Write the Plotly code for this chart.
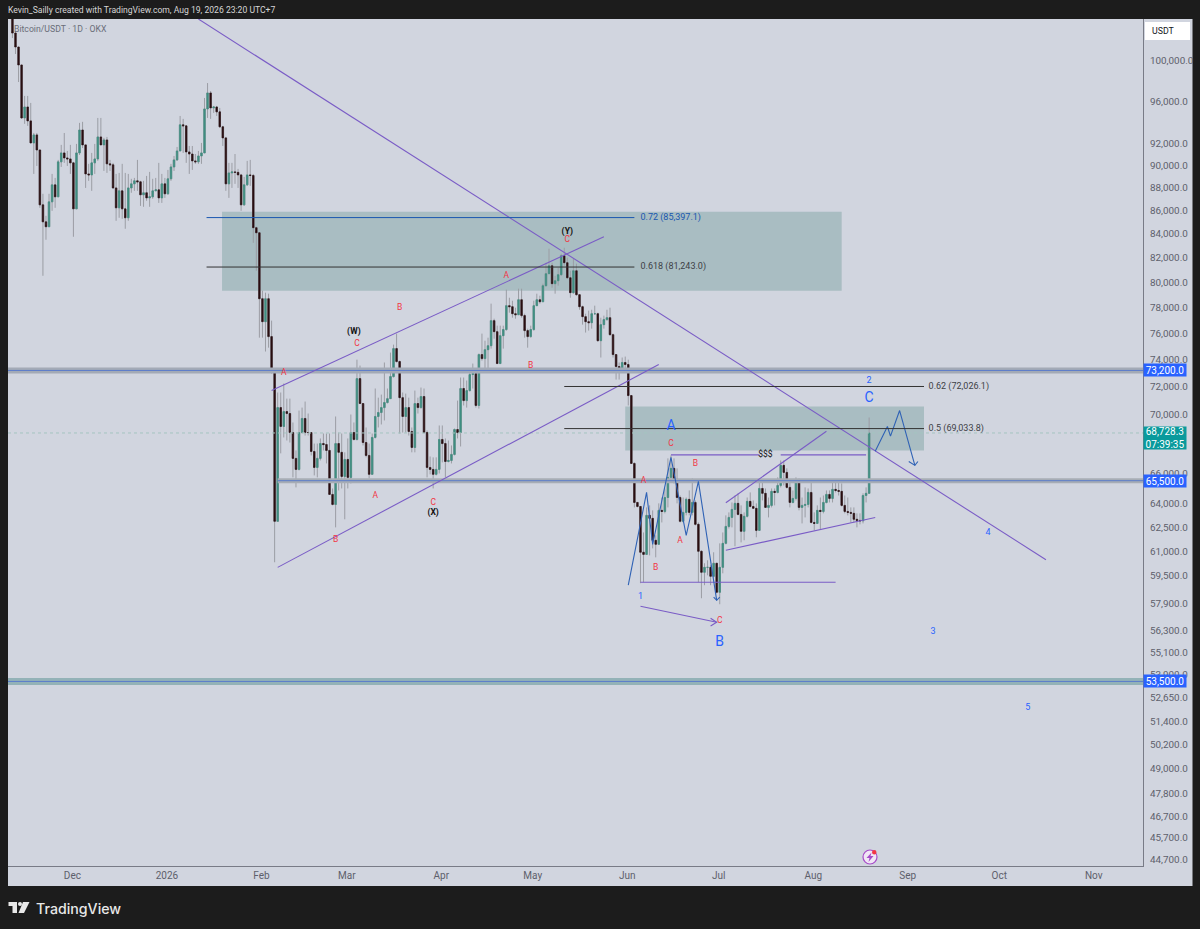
import math
import plotly.graph_objects as go
import pandas as pd

# daily candles (open = previous close)
first_date = "2025-11-11"
first_open = 105200
closes = [
    102860,101420,99600,94420,95470,94140,92070,92820,91420,86500,
    85030,84610,86760,88260,87200,90330,91150,90690,90600,90240,
    86150,91150,93280,91890,89240,89150,90240,90600,92630,91890,
    92350,90150,90060,87990,86240,87730,86150,85380,87990,88350,
    88620,88530,87380,87560,87110,87200,87730,87820,87110,88350,
    87470,88800,89870,90510,91330,93770,93670,91240,91050,90420,
    90330,90870,91150,95280,96830,95380,95470,95000,93580,92540,
    88350,89330,89420,89380,89150,86500,88260,89150,89100,84530,
    84100,78690,
    76890,78690,75740,73190,62870,70510,
    69180,70230,70090,68760,66990,66250,68760,69740,68760,68760,
    67460,66380,66990,68000,67930,67530,64600,63950,68000,67400,
    65780,66920,65720,68760,68280,72600,70800,68070,67190,65920,
    68420,69880,70160,70510,70870,71150,72750,74830,73860,71220,
    69880,70510,68830,67730,70800,70510,71300,68760,66380,66250,
    65920,66250,68280,68000,66780,66850,67260,68970,68760,71880,
    71010,71730,72900,72970,70660,74380,74080,74750,75050,76970,
    76120,73710,75810,76280,78140,78060,77510,77430,78610,77360,
    76200,75740,76280,78140,78610,
    78450,79730,80700,81350,79890,80130,80620,82170,81600,80370,
    79170,80940,79010,78060,77280,76890,76810,77510,77510,75430,
    76660,77050,77200,75890,74380,73490,73340,73790,73640,71370,
    66650,64080,
    63820,60940,60810,63250,63060,61680,61430,63570,63500,64400,
    65720,66320,65590,64400,62870,63440,64280,63440,64080,62680,
    61000,59720,60020,60020,59480,60270,58530,60020,61490,62550,
    63120,63630,64020,63310,62240,63190,64150,63820,63700,62300,
    64990,64670,63760,63890,64800,64730,65190,66520,66050,65060,
    64080,64340,65390,63760,63890,63950,64730,62800,62740,63570,
    63500,64080,64600,64340,64930,64860,64800,63890,63500,63440,
    63380,63000,62930,62900,64530,64670,68728.3,
]
highs = [
    104500,103070,101420,99600,96540,96540,95860,93000,93000,91420,
    87470,85550,87470,89240,88880,90510,91890,93000,91330,91890,
    90330,91980,93950,94050,91890,90150,91150,91980,94420,94420,
    92540,92630,90510,90240,89240,89330,90150,89330,89240,88800,
    88880,90510,88620,88620,89060,89420,88800,88880,90240,89240,
    88880,89600,90150,90870,91700,94610,94330,93670,91790,91790,
    91050,91330,92070,96340,97800,97020,95570,95570,95380,93670,
    92630,90240,90240,91050,89690,89240,88970,90420,90510,89240,
    84610,84100,
    79330,79170,79090,76970,73190,71590,
    71590,72240,71150,71150,69460,67530,70300,70510,70940,70090,
    68760,68000,68000,68350,68690,68690,68690,64990,69880,68760,
    68690,67400,68350,70020,69460,74000,73560,70800,69110,68000,
    68690,71880,71220,71440,73790,71880,74530,75130,75970,73930,
    71590,71510,71220,69110,71730,71220,71950,71880,68900,67120,
    67060,67060,69250,69250,68350,68210,67870,69040,71010,72680,
    72680,72460,73340,73710,73040,74460,75970,75430,75660,78300,
    77120,76580,76580,76580,79410,78770,78530,77980,79490,79490,
    77510,76350,76580,78530,79090,
    78930,79890,81600,82760,81600,80530,81190,82340,82840,82010,
    80940,81920,81520,79010,78140,77510,77750,77820,78140,77590,
    77200,77360,77820,77980,75970,74380,73790,74160,74230,74000,
    71370,66720,
    64080,63820,62170,63760,63890,63570,61990,64020,64400,64990,
    66990,67190,66990,66320,64530,64400,64400,64860,65650,64210,
    62800,61060,60270,60450,60150,60940,60270,61490,62170,63250,
    63440,64080,64530,64670,63890,63440,64400,64730,64210,64020,
    65520,65520,64990,64400,64990,64990,65720,66850,66850,66320,
    65390,64860,65720,65650,64400,65060,64990,65390,63440,63890,
    64400,64530,64860,64860,65390,65390,65390,65320,64530,64400,
    63760,63760,63380,63380,64670,65060,69810,
]
lows = [
    102340,100710,97900,94330,93860,93670,92070,89240,89960,86240,
    80530,83510,84610,85980,86240,87200,89870,90240,89960,89240,
    83760,86150,90960,91600,87990,88620,87730,89240,90420,91890,
    89510,89330,89510,87900,85120,85380,85290,84440,85120,87560,
    87730,87730,86410,86330,86850,86330,87030,87730,86670,86670,
    87110,87380,88620,89510,90420,91330,91150,90240,89240,89600,
    90150,90150,90150,91150,94420,94330,94900,94610,93490,91790,
    87730,87110,87990,88350,87990,85980,86410,88170,88170,83250,
    80940,75660,
    75660,74610,74900,72970,60330,62870,
    67330,68420,68210,68070,65720,65060,66180,68690,68550,68550,
    67190,65850,65720,66850,67530,66650,64600,63890,62490,64860,
    64990,63000,64990,65320,68210,68210,70800,67870,67060,65650,
    65920,68350,69110,69320,69600,70800,71150,72680,73790,68690,
    68760,68760,68550,67400,67400,70090,70440,68690,65720,65920,
    64990,65850,65980,66720,65720,66720,66650,67190,68350,67800,
    70660,70510,71660,71880,70510,70440,73930,73340,73340,74830,
    75580,73710,73710,74830,76200,77590,77200,77120,77510,77200,
    75660,74900,75660,76200,78140,
    78300,78450,79650,80700,79570,79090,79730,80530,81350,80290,
    78770,79090,78930,77820,76660,76050,76200,76350,77430,75350,
    74160,76350,76970,75810,74160,72530,72530,73190,73190,70660,
    66650,63760,
    63760,59070,59130,60810,60750,61180,60630,61430,62800,63380,
    63760,65390,65320,64020,62800,62800,63250,63250,63250,62610,
    59130,58180,58950,59540,58950,59420,58470,57830,59660,61430,
    62420,62490,61310,63250,61550,61680,63120,63760,63690,61870,
    62300,64210,63760,63120,63760,63890,64670,65060,65190,64990,
    63760,64020,64210,63570,62740,63120,63760,62740,62300,62740,
    62360,63380,64020,64080,64080,64730,64530,63820,63380,63250,
    62800,62800,62490,62680,62740,64080,64670,
]

# axis labels
price_ticks = [100000,96000,92000,90000,88000,86000,84000,82000,80000,78000,76000,74000,72000,70000,
               66000,64000,62500,61000,59500,57900,56300,55100,53900,52650,51400,50200,49000,47800,46700,45700,44700]
month_ticks = ["2025-11-30 16:00","2025-12-31 16:00","2026-01-31 16:00","2026-02-28 16:00","2026-03-31 16:00","2026-04-30 16:00",
               "2026-05-31 16:00","2026-06-30 16:00","2026-07-31 16:00","2026-08-31 16:00","2026-09-30 16:00","2026-10-31 16:00"]
month_labels = ["Dec","2026","Feb","Mar","Apr","May","Jun","Jul","Aug","Sep","Oct","Nov"]
x_range = ["2025-11-09 13:00","2026-11-16 20:00"]
y_range = [44417,104324]

# drawings on the chart
trend_x = ["2026-01-11","2026-10-16"]
trend_y = [104320,60480]
wedge_low_x = ["2026-02-06","2026-06-11"]
wedge_low_y = [60020,73640]
wedge_up_x = ["2026-02-04","2026-05-24"]
wedge_up_y = [71730,83760]
rise_up_x = ["2026-07-03","2026-08-05"]
rise_up_y = [64060,68850]
rise_low_x = ["2026-07-03","2026-08-21"]
rise_low_y = [61060,63120]
floor_x = ["2026-06-05","2026-08-08"]
floor_y = [59130,59130]
money_x = ["2026-06-15","2026-07-14",None,"2026-07-21","2026-08-18"]
money_y = [67230,67230,None,67230,67230]
arrow_x = ["2026-06-05","2026-06-30",None,"2026-06-28","2026-06-30","2026-06-28"]
arrow_y = [57710,56790,None,57020,56790,56570]
wave_x = ["2026-06-01","2026-06-07","2026-06-09","2026-06-15","2026-06-20","2026-06-24","2026-06-30",None,"2026-06-29","2026-06-30","2026-07-01"]
wave_y = [58950,64730,61430,67060,61990,65460,58060,None,58240,58060,58240]
plan_x = ["2026-08-21","2026-08-25","2026-08-26","2026-08-29","2026-09-03",None,"2026-09-01","2026-09-03","2026-09-04"]
plan_y = [67480,69180,68510,70300,66520,None,66780,66520,66780]

zones_x = [["2026-01-18 18:00","2026-08-10"],["2026-05-31","2026-09-06"]]
zones_y = [[85900,79330],[70580,67530]]
levels = [73200,65500,53500]
level_starts = ["2025-11-09","2026-02-06","2025-11-09"]
level_band = ["#a3aab6","#a7adb5","#93b2b7"]
level_band_w = [6,5,7]

fib_vals = [85397.1,81243.0,72026.1,69033.8]
fib_start = ["2026-01-13 16:00","2026-01-13 16:00","2026-05-11","2026-05-11"]
fib_end = ["2026-06-03","2026-06-03","2026-09-06","2026-09-06"]
fib_label_x = ["2026-06-05","2026-06-05","2026-09-07 12:00","2026-09-07 12:00"]
fib_text = ["0.72 (85,397.1)","0.618 (81,243.0)","0.62 (72,026.1)","0.5 (69,033.8)"]
fib_color = ["#1a56b0","#333333","#333333","#333333"]

red_x = ["2026-02-08","2026-03-04","2026-03-18","2026-03-10","2026-02-25","2026-03-29","2026-04-22","2026-04-30",
         "2026-05-12","2026-06-06","2026-06-15","2026-06-23","2026-06-18","2026-06-10","2026-07-01"]
red_y = [73040,75210,77980,64530,61680,64020,80530,73560,83510,65460,68000,66650,61620,59960,56860]
red_text = ["A","C","B","A","B","C","A","B","C","A","C","B","A","B","C"]
black_x = ["2026-03-03","2026-03-29","2026-05-12","2026-07-16"]
black_y = [76120,63440,84190,67230]
black_text = ["<b>(W)</b>","<b>(X)</b>","<b>(Y)</b>","$$$"]
big_x = ["2026-06-15","2026-07-01","2026-08-19"]
big_y = [69180,55670,71150]
big_text = ["A","B","C"]
small_x = ["2026-08-19","2026-06-05","2026-09-09","2026-09-27","2026-10-10"]
small_y = [72460,58240,56230,62170,52090]
small_text = ["2","1","3","4","5"]

PURPLE = "#7a5cc6"
BLUE_LINE = "#2f62b5"
TAG_BLUE = "#2962ff"
TICK = "#5d606b"
FONT = "Roboto"

dates = pd.date_range(first_date, periods=len(closes), freq="D")
opens = [first_open] + closes[:-1]
body_high = [max(o, c) for o, c in zip(opens, closes)]
body_low = [min(o, c) for o, c in zip(opens, closes)]

fig = go.Figure()

for val, start, band, w in zip(levels, level_starts, level_band, level_band_w):
    fig.add_trace(go.Scatter(x=[start, x_range[1]], y=[val, val], mode="lines", line=dict(color=band, width=w)))
    fig.add_trace(go.Scatter(x=[start, x_range[1]], y=[val, val], mode="lines", line=dict(color="#5b7ccb", width=1)))

# last price line
fig.add_trace(go.Scatter(x=x_range, y=[closes[-1], closes[-1]], mode="lines",
                         line=dict(color="#a5c4c0", width=1, dash="dot")))

# wicks first, then the bodies on top so the two can have different colours
fig.add_trace(go.Candlestick(x=dates, open=opens, high=highs, low=lows, close=closes,
                             whiskerwidth=0,
                             increasing=dict(line=dict(color="#9b9da4", width=1), fillcolor="#9b9da4"),
                             decreasing=dict(line=dict(color="#9b9da4", width=1), fillcolor="#9b9da4")))
fig.add_trace(go.Candlestick(x=dates, open=opens, high=body_high, low=body_low, close=closes,
                             whiskerwidth=0,
                             increasing=dict(line=dict(color="#3f8f82", width=0.6), fillcolor="#3f8f82"),
                             decreasing=dict(line=dict(color="#2a0f12", width=0.6), fillcolor="#2a0f12")))

for lx, ly in [(trend_x, trend_y), (wedge_low_x, wedge_low_y), (wedge_up_x, wedge_up_y),
               (rise_up_x, rise_up_y), (rise_low_x, rise_low_y), (floor_x, floor_y),
               (money_x, money_y), (arrow_x, arrow_y)]:
    fig.add_trace(go.Scatter(x=lx, y=ly, mode="lines", line=dict(color=PURPLE, width=1.1)))
for lx, ly in [(wave_x, wave_y), (plan_x, plan_y)]:
    fig.add_trace(go.Scatter(x=lx, y=ly, mode="lines", line=dict(color=BLUE_LINE, width=1.1)))

for val, start, end, lab_x, text, col in zip(fib_vals, fib_start, fib_end, fib_label_x, fib_text, fib_color):
    fig.add_trace(go.Scatter(x=[start, end], y=[val, val], mode="lines", line=dict(color=col, width=1)))
    fig.add_trace(go.Scatter(x=[lab_x], y=[val], mode="text", text=[text], textposition="middle right",
                             textfont=dict(family=FONT, size=9, color=col if col != "#333333" else "#3d3f46")))

fig.add_trace(go.Scatter(x=red_x, y=red_y, mode="text", text=red_text,
                         textfont=dict(family=FONT, size=8.5, color="#f23645")))
fig.add_trace(go.Scatter(x=black_x, y=black_y, mode="text", text=black_text,
                         textfont=dict(family=FONT, size=8.5, color="#111111")))
fig.add_trace(go.Scatter(x=big_x, y=big_y, mode="text", text=big_text,
                         textfont=dict(family=FONT, size=14, color=TAG_BLUE)))
fig.add_trace(go.Scatter(x=small_x, y=small_y, mode="text", text=small_text,
                         textfont=dict(family=FONT, size=9, color=TAG_BLUE)))


# helpers for the frame around the chart (header, footer, price tags), in page pixels
def px_x(v):
    return (v - 8) / 1135


def px_y(v):
    return (866 - v) / 847


def paper_path(points):
    return "M" + " L".join(f"{px_x(a):.5f},{px_y(b):.5f}" for a, b in points) + " Z"


# zones sit under the candles; scatter traces would always draw over them
shapes = [dict(type="rect", xref="x", yref="y", x0=zx[0], x1=zx[1], y0=zy[0], y1=zy[1],
               fillcolor="#a9bdc2", line=dict(width=0), layer="below")
          for zx, zy in zip(zones_x, zones_y)]

shapes += [
    dict(type="rect", xref="paper", yref="paper", x0=1, x1=px_x(1192.5), y0=px_y(886), y1=1,
         fillcolor="#d1d5df", line=dict(width=0), layer="below"),
    dict(type="rect", xref="paper", yref="paper", x0=0, x1=1, y0=px_y(886), y1=0,
         fillcolor="#d1d5df", line=dict(width=0), layer="below"),
    dict(type="rect", xref="paper", yref="paper", x0=px_x(1145), x1=px_x(1190), y0=px_y(40), y1=px_y(22),
         fillcolor="#ffffff", line=dict(width=0)),
    dict(type="circle", xref="paper", yref="paper", x0=px_x(863), x1=px_x(877), y0=px_y(864), y1=px_y(850),
         fillcolor="#f0e6f5", line=dict(color="#a64bc9", width=1.2)),
    dict(type="path", xref="paper", yref="paper", fillcolor="#a64bc9", line=dict(width=0),
         path=paper_path([(871.5, 852.5), (866.5, 858), (869.5, 858), (868.5, 862), (873.5, 856), (870.5, 856)])),
    dict(type="circle", xref="paper", yref="paper", x0=px_x(872), x1=px_x(876.5), y0=px_y(854.5), y1=px_y(850),
         fillcolor="#f23645", line=dict(width=0)),
    # logo
    dict(type="path", xref="paper", yref="paper", fillcolor="#e8e8e8", line=dict(width=0),
         path=paper_path([(8.5, 902), (17, 902), (17, 913), (12.5, 913), (12.5, 906), (8.5, 906)])),
    dict(type="path", xref="paper", yref="paper", fillcolor="#e8e8e8", line=dict(width=0),
         path=paper_path([(23, 902), (29.5, 902), (24, 913), (18.5, 913)])),
    dict(type="circle", xref="paper", yref="paper", x0=px_x(18), x1=px_x(22), y0=px_y(906), y1=px_y(902),
         fillcolor="#e8e8e8", line=dict(width=0)),
]

annotations = [
    dict(x=px_x(6), y=px_y(10), text="Kevin_Sailly created with TradingView.com, Aug 19, 2026 23:20 UTC+7",
         font=dict(family=FONT, size=8.6, color="#d6d6d6")),
    dict(x=px_x(12), y=px_y(29), text="Bitcoin/USDT · 1D · OKX", font=dict(family=FONT, size=8.7, color="#6a6d78")),
    dict(x=px_x(33.5), y=px_y(908), text="TradingView", font=dict(family="Inter", size=14.2, weight=500, color="#e8e8e8")),
    dict(x=px_x(1150), y=px_y(31), text="USDT", font=dict(family=FONT, size=8.8, color="#131722")),
]
annotations = [dict(a, xref="paper", yref="paper", xanchor="left", yanchor="middle", showarrow=False)
               for a in annotations]

for val in levels:
    annotations.append(dict(xref="paper", yref="y", x=px_x(1143), y=math.log10(val), xanchor="left", yanchor="middle",
                            text=f"{val:,.1f}", showarrow=False, bgcolor=TAG_BLUE, width=42, height=12, borderpad=0,
                            font=dict(family=FONT, size=10, color="#ffffff")))
annotations.append(dict(xref="paper", yref="y", x=px_x(1143), y=math.log10(closes[-1]), xanchor="left", yanchor="middle",
                        yshift=-5, text=f"{closes[-1]:,.1f}<br>07:39:35", showarrow=False, bgcolor="#0a9a9c",
                        width=42, height=22, borderpad=0, font=dict(family=FONT, size=10, color="#ffffff")))

fig.update_layout(
    width=1200, height=929,
    margin=dict(l=8, r=57, t=19, b=63),
    paper_bgcolor="#1c1c1c",
    plot_bgcolor="#d1d5df",
    showlegend=False,
    boxgap=0.3,
    shapes=shapes,
    annotations=annotations,
    xaxis=dict(type="date", range=x_range, tickvals=month_ticks, ticktext=month_labels,
               showgrid=False, zeroline=False, rangeslider=dict(visible=False), ticks="",
               showline=True, linecolor="#787b86", linewidth=1,
               tickfont=dict(family=FONT, size=10, color=TICK)),
    yaxis=dict(type="log", side="right", range=[math.log10(y_range[0]), math.log10(y_range[1])],
               tickvals=price_ticks, ticktext=[f"{p:,.1f}" for p in price_ticks],
               showgrid=False, zeroline=False, ticks="",
               showline=True, linecolor="#787b86", linewidth=1, ticklabelstandoff=4,
               tickfont=dict(family=FONT, size=9.9, color=TICK)),
)

fig.write_html("out.html", config={"displayModeBar": False},
               post_script="document.body.style.margin='0';document.body.style.overflow='hidden';")
